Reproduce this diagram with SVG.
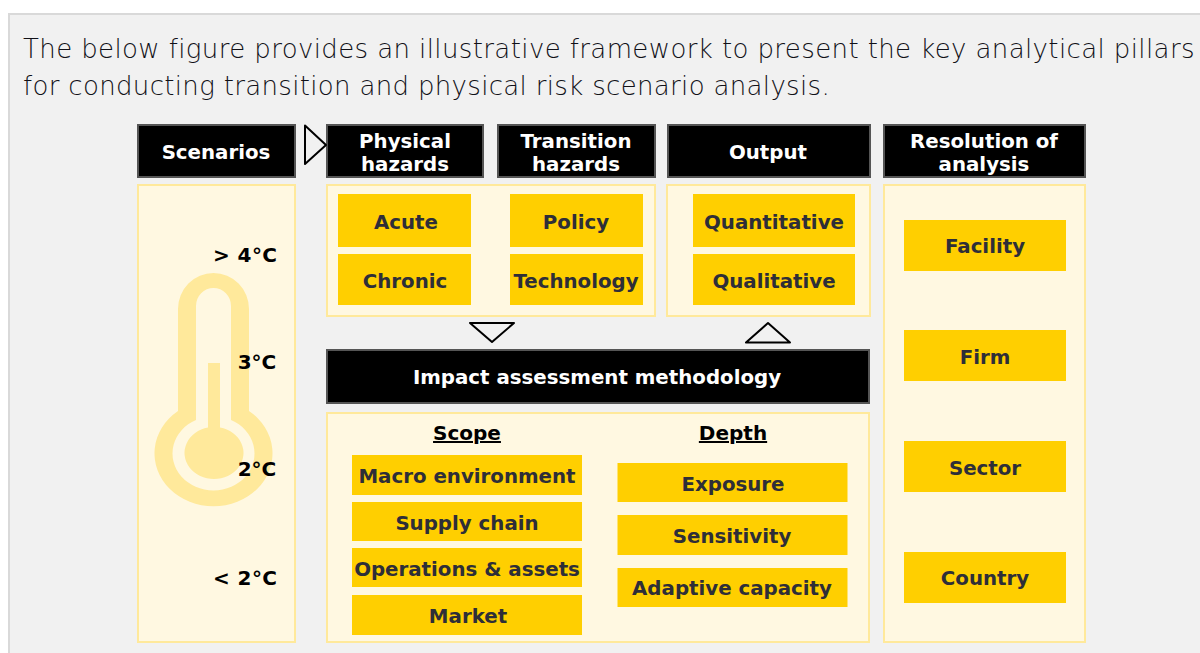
<svg xmlns="http://www.w3.org/2000/svg" width="1200" height="653" viewBox="0 0 1200 653">
<style>
text{font-family:"DejaVu Sans","Liberation Sans",sans-serif}
.intro{font-size:26px;font-weight:200;fill:#111118}
.panel{fill:#fff8e1;stroke:#ffe99b;stroke-width:2}
.head{fill:#000;stroke:#555;stroke-width:2}
.box{fill:#ffcf00}
.w{font-size:19.8px;font-weight:700;fill:#fff;text-anchor:middle}
.d{font-size:19.8px;font-weight:700;fill:#2e2e38;text-anchor:middle}
.k{font-size:20px;font-weight:700;fill:#000;text-anchor:middle}
.tri{fill:#f1f1f1;stroke:#000;stroke-width:2;stroke-linejoin:round}
.th{fill:#ffe99b}
</style>
<rect x="0" y="0" width="1200" height="653" fill="#fff"/>
<rect x="9" y="14" width="1200" height="650" fill="#f1f1f1" stroke="#d9d9d9" stroke-width="2"/>
<text class="intro" x="23" y="58" letter-spacing="0.39">The below figure provides an illustrative framework to present the key analytical pillars</text>
<text class="intro" x="23" y="95" letter-spacing="0.33">for conducting transition and physical risk scenario analysis.</text>

<g id="scenarios-panel">
<rect class="panel" x="138" y="185" width="157" height="457"/>
<path class="th" fill-rule="evenodd" d="M178 411V309a35.500 36 0 0 1 71 0V411A59 53 0 1 1 178 411ZM196 420A41 37 0 1 0 231 420V306a17.500 18 0 0 0-35 0Z"/>
<path class="th" d="M208 363h12v64.500A29.500 26 0 1 1 208 427.500Z"/>
<text class="k" x="245" y="262" textLength="64">&gt; 4°C</text>
<text class="k" x="257" y="369">3°C</text>
<text class="k" x="257" y="476">2°C</text>
<text class="k" x="245" y="585" textLength="64">&lt; 2°C</text>
</g>
<g id="scenarios"><rect class="head" x="138" y="125" width="157" height="52"/><text class="w" x="216" y="159">Scenarios</text></g>
<g id="physical-hazards"><rect class="head" x="327" y="125" width="156" height="52"/><text class="w" x="405" y="148">Physical</text><text class="w" x="405" y="171">hazards</text></g>
<g id="transition-hazards"><rect class="head" x="498" y="125" width="157" height="52"/><text class="w" x="576" y="148">Transition</text><text class="w" x="576" y="171">hazards</text></g>
<g id="output"><rect class="head" x="668" y="125" width="202" height="52"/><text class="w" x="768" y="159">Output</text></g>
<g id="resolution"><rect class="head" x="884" y="125" width="201" height="52"/><text class="w" x="984" y="148">Resolution of</text><text class="w" x="984" y="171">analysis</text></g>

<g id="hazards-panel">
<rect class="panel" x="327" y="185" width="328" height="131"/>
<g id="acute"><rect class="box" x="338" y="194" width="133" height="53"/><text class="d" x="406" y="229">Acute</text></g>
<g id="chronic"><rect class="box" x="338" y="254" width="133" height="51"/><text class="d" x="405" y="288">Chronic</text></g>
<g id="policy"><rect class="box" x="510" y="194" width="133" height="53"/><text class="d" x="576" y="229">Policy</text></g>
<g id="technology"><rect class="box" x="510" y="254" width="133" height="51"/><text class="d" x="576" y="288">Technology</text></g>
</g>
<g id="output-panel">
<rect class="panel" x="667" y="185" width="203" height="131"/>
<g id="quantitative"><rect class="box" x="693" y="194" width="162" height="53"/><text class="d" x="774" y="229">Quantitative</text></g>
<g id="qualitative"><rect class="box" x="693" y="254" width="162" height="51"/><text class="d" x="774" y="288">Qualitative</text></g>
</g>
<g id="resolution-panel">
<rect class="panel" x="884" y="185" width="201" height="457"/>
<g id="facility"><rect class="box" x="904" y="220" width="162" height="51"/><text class="d" x="985" y="253">Facility</text></g>
<g id="firm"><rect class="box" x="904" y="330" width="162" height="51"/><text class="d" x="985" y="364">Firm</text></g>
<g id="sector"><rect class="box" x="904" y="441" width="162" height="51"/><text class="d" x="985" y="475">Sector</text></g>
<g id="country"><rect class="box" x="904" y="552" width="162" height="51"/><text class="d" x="985" y="585">Country</text></g>
</g>
<g id="impact"><rect class="head" x="327" y="350" width="542" height="53"/><text class="w" x="597" y="384">Impact assessment methodology</text></g>
<g id="impact-panel">
<rect class="panel" x="327" y="413" width="542" height="229"/>
<text class="k" x="467" y="440" text-decoration="underline">Scope</text>
<text class="k" x="733" y="440" text-decoration="underline">Depth</text>
<g id="macro"><rect class="box" x="352" y="455" width="230" height="40"/><text class="d" x="467" y="483">Macro environment</text></g>
<g id="supply"><rect class="box" x="352" y="502" width="230" height="39"/><text class="d" x="467" y="530">Supply chain</text></g>
<g id="operations"><rect class="box" x="352" y="548" width="230" height="39"/><text class="d" x="467" y="576">Operations &amp; assets</text></g>
<g id="market"><rect class="box" x="352" y="595" width="230" height="40"/><text class="d" x="468" y="623">Market</text></g>
<g id="exposure"><rect class="box" x="617.500" y="463" width="230" height="39"/><text class="d" x="733" y="491">Exposure</text></g>
<g id="sensitivity"><rect class="box" x="617.500" y="515" width="230" height="40"/><text class="d" x="732" y="543">Sensitivity</text></g>
<g id="adaptive"><rect class="box" x="617.500" y="568" width="230" height="39"/><text class="d" x="732" y="595">Adaptive capacity</text></g>
</g>
<g id="connectors">
<path class="tri" d="M305 125.500L326 145L305 164Z"/>
<path class="tri" d="M470 323H514L492 342Z"/>
<path class="tri" d="M746 342.500H790L768 323Z"/>
</g>
</svg>
